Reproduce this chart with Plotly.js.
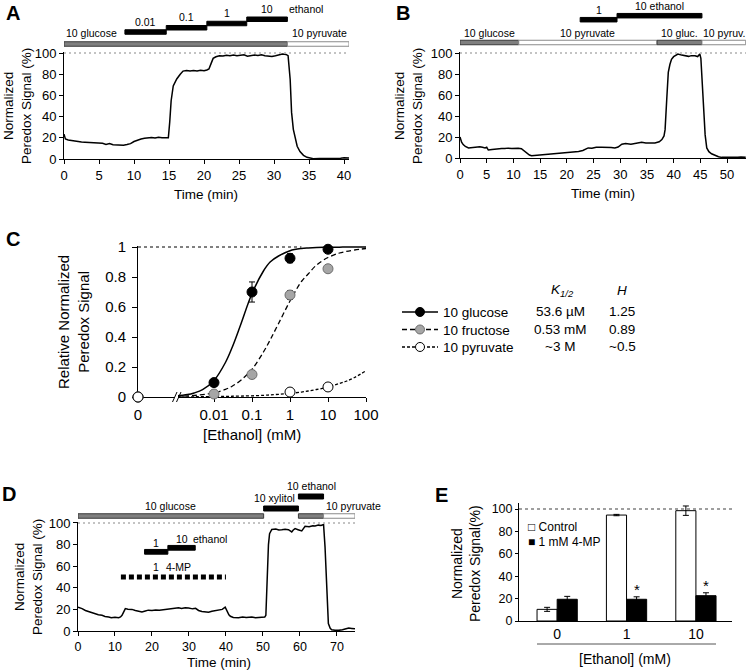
<!DOCTYPE html>
<html><head><meta charset="utf-8">
<script src="https://cdn.plot.ly/plotly-3.0.1.min.js"></script>
<style>html,body{margin:0;padding:0;background:#fff}#chart{width:747px;height:672px}</style>
</head><body><div id="chart"></div>
<script>
// ================= DATA =================
// Panel A: time course (min, % signal)
const aTime = [0,0.2,0.6,1,1.5,2,2.5,3,3.5,4, 4.5,5,5.5,6,6.5,7,7.5,8,8.5,9, 9.5,10,10.5,11,11.5,12,12.5,13,13.5,14, 14.5,14.9,15.1,15.3,15.6,16.1,16.6,17,17.5,18, 18.5,19,19.5,20,20.4,20.7,21,21.3,21.7,22.2, 22.7,23.2,23.7,24.2,24.7,25.2,25.7,26.2,26.7,27.2, 27.7,28.2,28.7,29.2,29.7,30.2,30.7,31.2,31.7,32.0, 32.3,32.5,32.75,33.0,33.3,33.7,34.2,34.7,35.2,35.6, 36.5,37.5,38.5,39.5,40,40.7];
const aSignal = [23.5,19,18,17.5,17.2,16.5,16,15.8,15.5,15.2, 14.8,14.5,14.9,13.8,14.6,13.4,13.2,13.7,13,13.6, 14.5,16.5,17.8,18.8,19.5,20,20.3,19.8,20.5,20.1, 20.4,20,35,55,69,75.5,80,83,83.6,83, 83.5,83.1,83.8,83.3,84,85,90,95,96.5,97.5, 97.2,98,97.5,98.1,97.4,97.9,98.3,97.1,97.6,98.2, 97.6,98.3,97.5,97,96.8,97.4,98.5,99,98.7,97.5, 75,44,28,19,12,7,3.5,1.6,0.6,0.3, 0.5,0.4,0.6,0.8,1.2,0.9];
const aCondLabels = ["10 glucose", "10 pyruvate"];
const aCondSubstance = ["glucose", "pyruvate"];
const aCondStart = [0, 31.9];
const aCondEnd = [31.9, 40.7];
const aEthLabels = ["0.01", "0.1", "1", "10"];
const aEthStart = [8.7, 14.6, 20.4, 26.1];
const aEthEnd = [14.6, 20.4, 26.1, 31.9];

// Panel B
const bTime = [0,0.3,0.6,1,1.6,2.2,2.8,3.3,3.7,4.2, 4.7,5,5.3,6,6.6,7.2,7.8,8.4,9,9.7, 10.3,10.9,11.5,12,12.5,13,13.4,14,14.6,15.3, 16,16.8,17.8,18.8,19.5,20.3,21,22.2,23,24, 24.7,25.5,26.5,27.5,28.3,29,29.6,30.3,31,32, 32.8,33.5,34,34.8,35.5,36.5,37.3,37.8,38.2,38.4, 38.7,39.0,39.3,39.6,40,40.3,40.8,41.5,42,42.8, 43.3,44,44.5,44.9,45.1,45.3,45.6,45.9,46.2,46.6, 47.1,47.8,48.4,49,50,51,52,52.6,53.5];
const bSignal = [20,15,12.8,11,9.6,10,10.4,11.2,10.8,10.2, 9.6,10.2,7.6,8.2,8.6,8.4,9,9,9.4,9.1, 9.4,9.2,8.8,6.5,4.2,2.8,2.2,2.5,2.2,2.6, 2.9,3.3,3.8,4.3,4.5,4.9,5.5,6.3,7.2,9.6, 9.4,10.3,10.2,10.4,10,9.6,10.4,13.2,13.8,13.2, 13.7,14.5,15,14.3,14.6,14.4,15.5,17.6,21,27, 55,81.5,89,94,96.5,97.4,99,98,97.5,96.8, 97.5,97.4,96.6,99,95,75,43,22,9.6,6, 4,2.4,1.2,0.6,0.4,0.5,0.7,1,0.8];
const bCondLabels = ["10 glucose", "10 pyruvate", "10 gluc.", "10 pyruv."];
const bCondSubstance = ["glucose", "pyruvate", "glucose", "pyruvate"];
const bCondStart = [0, 11.0, 36.9, 45.3];
const bCondEnd = [11.0, 36.9, 45.3, 53.5];
const bEthLabels = ["1", "10 ethanol"];
const bEthStart = [22.5, 29.4];
const bEthEnd = [29.4, 45.3];

// Panel C: dose response
const cEthanol = [0, 0.01, 0.1, 1, 10];
const cGlucose = [0, 0.096, 0.70, 0.925, 0.985];
const cGlucoseErr = [0, 0.01, 0.067, 0.03, 0.01];
const cFructose = [0, 0.02, 0.15, 0.68, 0.855];
const cFructoseErr = [0, 0.005, 0.025, 0.03, 0.01];
const cPyrEthanol = [0, 1, 10];
const cPyruvate = [0, 0.033, 0.067];
const cFitEthanol = [0.001,0.002,0.003,0.005,0.01,0.02,0.03,0.05,0.1,0.2,0.3,0.5,1,2,3,5,10,20,30,50,100];
const cFitGlucose = [0.007,0.016,0.027,0.049,0.11,0.23,0.33,0.48,0.69,0.84,0.9,0.94,0.975,0.99,0.994,0.997,0.998,0.999,1,1,1];
const cFitFructose = [0.004,0.007,0.01,0.016,0.028,0.051,0.072,0.11,0.185,0.3,0.38,0.49,0.64,0.77,0.82,0.88,0.93,0.96,0.97,0.98,0.99];
const cFitPyruvate = [0.001,0.0012,0.0015,0.002,0.003,0.004,0.005,0.006,0.008,0.011,0.014,0.018,0.024,0.033,0.04,0.05,0.066,0.09,0.105,0.13,0.175];
const cSeriesNames = ["10 glucose", "10 fructose", "10 pyruvate"];
const cK = ["53.6 µM", "0.53 mM", "~3 M"];
const cH = ["1.25", "0.89", "~0.5"];
const cTickVals = [0, 0.01, 0.1, 1, 10, 100];
const cTickText = ["0", "0.01", "0.1", "1", "10", "100"];

// Panel D
const dTime = [0,0.5,1.1,2,3,3.8,4.5,5.5,6.5,7.3, 8.3,9,10,11,11.5,11.9,12.4,12.8,13.5,14.6, 15.5,16.5,17.3,18.2,19,20,21,22,23.6,24.5, 25.5,26.4,27.2,28,29,29.9,31,31.8,32.6,33.5, 34.4,35.3,36.2,37,38,39,39.8,40.3,40.8,41.2, 42,43.4,44.5,45.5,47,48,49,49.7,50.5,50.8, 51.0,51.2,51.5,51.8,52.4,53.5,54.3,55.1,56,56.9, 57.8,58.2,58.7,59.5,60.5,61,61.4,62.5,63.5,64.1, 65,65.7,66.4,66.8,67.1,67.3,67.7,68.2,68.6,69.5, 70.5,71.5,72.5,73.2,74,74.5,74.9];
const dSignal = [22,21.5,20.7,19,17.8,16.7,15.8,15,14.5,13.5, 13,12.3,12.8,12.3,13,14.5,18,20.7,20.2,20, 19,18.2,17.6,18.5,19.3,19,19.5,19.2,19.8,20.5, 20.8,21.2,21.6,20.8,21.5,21.3,20.5,21,19,18, 17.6,17.3,18.2,18.8,19,20,22,17.6,15,13.6, 12.5,12.3,13,12.4,13,12.2,12.6,12.3,13,14.5, 35,62,80,90,94,94.5,93.6,93.8,94.2,93.8, 91.7,93.5,94.8,93.8,92.6,95,97,96.5,97.4,97.2, 98,97.6,98.5,77.8,50,31.5,6.8,2.5,1.2,0.8, 0.6,1.2,2,2.8,2.4,2.2,2];
const dCondLabels = ["10 glucose", "", "10 pyruvate"];
const dCondSubstance = ["glucose", "glucose", "pyruvate"];
const dCondStart = [0, 59.6, 66.4];
const dCondEnd = [50.2, 66.4, 74.9];
const dAddLabels = ["10 xylitol", "10 ethanol"];
const dAddStart = [50.2, 59.6];
const dAddEnd = [59.6, 66.4];
const dEthLabels = ["1", "10"];
const dEthStart = [18.0, 24.3];
const dEthEnd = [24.3, 31.7];
const dMPLabel = "4-MP";
const dMPConc = "1";
const dMPStart = 11.6;
const dMPEnd = 40.0;

// Panel E
const eEthanol = ["0", "1", "10"];
const eControl = [10.4, 94.6, 98.5];
const eControlErr = [1.8, 0.6, 4.2];
const eMP = [19.4, 19.4, 22.6];
const eMPErr = [2.6, 2.2, 2.6];
const eSignificant = [false, true, true];
const eSeriesNames = ["Control", "1 mM 4-MP"];

// ================= LAYOUT HELPERS =================
const FONT = 'Arial, "Liberation Sans", Helvetica, sans-serif';
const W = 747, H = 672;
const PX = v => v / W;
const PY = v => 1 - v / H;
const FILL = {glucose: '#7f7f7f', pyruvate: '#ffffff'};
const EDGE = {glucose: '#3a3a3a', pyruvate: '#8a8a8a'};
const shapes = [], annotations = [];

function txt(t, xref, x, yPx, size, extra) {
  annotations.push(Object.assign({
    text: t, xref: xref, x: x, yref: 'paper', y: PY(yPx), showarrow: false,
    xanchor: 'center', yanchor: 'middle',
    font: {family: FONT, size: size, color: '#000'}
  }, extra || {}));
}
function rectPx(xref, x0, x1, yc, h, fill, edge) {
  shapes.push({type: 'rect', xref: xref, yref: 'paper', x0: x0, x1: x1,
    y0: PY(yc + h / 2), y1: PY(yc - h / 2), fillcolor: fill,
    line: {color: edge, width: 1}, layer: 'above'});
}
const mid = (a, b) => (a + b) / 2;

function axisStyle(extra) {
  return Object.assign({
    showline: true, linecolor: '#000', linewidth: 1, ticks: 'outside', ticklen: 4,
    tickwidth: 1, tickcolor: '#000', showgrid: false, zeroline: false,
    tickfont: {family: FONT, size: 13, color: '#000'}, fixedrange: true
  }, extra);
}

// ================= TRACES =================
const traces = [];
const lineTrace = (x, y, xa, ya) => ({x: x, y: y, xaxis: xa, yaxis: ya, type: 'scatter', mode: 'lines',
  line: {color: '#000', width: 1.5}, showlegend: false, hoverinfo: 'skip'});
traces.push(lineTrace(aTime, aSignal, 'x', 'y'));
traces.push(lineTrace(bTime, bSignal, 'x2', 'y2'));
traces.push(lineTrace(dTime, dSignal, 'x4', 'y4'));

// Panel C
const C_ZERO = 1e-4; // axis position used for "0"
const zpos = v => (v === 0 ? C_ZERO : v);
const cStyles = [
  {dash: 'solid', fill: '#000000', edge: '#000000'},
  {dash: '5px,3px', fill: '#a6a6a6', edge: '#6e6e6e'},
  {dash: '3px,2px', fill: '#ffffff', edge: '#000000'}
];
const cFits = [cFitGlucose, cFitFructose, cFitPyruvate];
cFits.forEach((f, i) => traces.push({x: cFitEthanol, y: f, xaxis: 'x3', yaxis: 'y3', type: 'scatter', mode: 'lines',
  line: {color: '#000', width: i === 0 ? 1.5 : 1.3, dash: cStyles[i].dash, shape: 'spline'}, showlegend: false, hoverinfo: 'skip'}));
const cPts = [
  {x: cEthanol, y: cGlucose, e: cGlucoseErr},
  {x: cEthanol, y: cFructose, e: cFructoseErr},
  {x: cPyrEthanol, y: cPyruvate, e: null}
];
cPts.forEach((p, i) => traces.push({x: p.x.map(zpos), y: p.y, xaxis: 'x3', yaxis: 'y3', type: 'scatter', mode: 'markers',
  marker: {size: 10, color: cStyles[i].fill, line: {color: cStyles[i].edge, width: 1}},
  error_y: p.e ? {type: 'data', array: p.e, color: '#000', thickness: 1, width: 3} : {visible: false},
  cliponaxis: false, showlegend: false, hoverinfo: 'skip'}));
// legend entries for panel C (one legend per row so rows can sit at the reference spacing)
const cLegendIds = ['legend', 'legend2', 'legend3'];
cSeriesNames.forEach((n, i) => traces.push({x: [null], y: [null], xaxis: 'x3', yaxis: 'y3', type: 'scatter', mode: 'lines+markers',
  name: n, legend: cLegendIds[i], line: {color: '#000', width: 1.3, dash: cStyles[i].dash},
  marker: {size: 9, color: cStyles[i].fill, line: {color: cStyles[i].edge, width: 1}}, showlegend: true}));

// Panel E
const eX = eEthanol.map((c, i) => i);
traces.push({type: 'bar', x: eX, y: eControl, xaxis: 'x5', yaxis: 'y5', name: eSeriesNames[0],
  marker: {color: '#ffffff', line: {color: '#000', width: 1}},
  error_y: {type: 'data', array: eControlErr, color: '#000', thickness: 1, width: 3}, showlegend: false, hoverinfo: 'skip'});
traces.push({type: 'bar', x: eX, y: eMP, xaxis: 'x5', yaxis: 'y5', name: eSeriesNames[1],
  marker: {color: '#000000', line: {color: '#000', width: 1}},
  error_y: {type: 'data', array: eMPErr, color: '#000', thickness: 1, width: 3}, showlegend: false, hoverinfo: 'skip'});

// ================= DECORATIONS =================
const LBL = 10.5;
// --- Panel A ---
aCondStart.forEach((s, i) => rectPx('x', s, aCondEnd[i], 44, 4.5, FILL[aCondSubstance[i]], EDGE[aCondSubstance[i]]));
txt(aCondLabels[0], 'x', aCondStart[0], 33, LBL, {xanchor: 'left'});
txt(aCondLabels[1], 'x', aCondEnd[1], 33, LBL, {xanchor: 'right'});
aEthStart.forEach((s, i) => {
  const yc = 32 - 4.25 * i;
  rectPx('x', s, aEthEnd[i], yc, 4.5, '#000', '#000');
  txt(aEthLabels[i], 'x', mid(s, aEthEnd[i]), yc - 10.5, LBL);
});
txt('ethanol', 'x', aEthEnd[aEthEnd.length - 1] + 2.7, 9, LBL);
shapes.push({type: 'line', xref: 'x', yref: 'y', x0: 0, x1: 40.7, y0: 100, y1: 100, line: {color: '#b0b0b0', width: 1.5, dash: '2px,3px'}});

// --- Panel B ---
bCondStart.forEach((s, i) => {
  rectPx('x2', s, bCondEnd[i], 42.5, 4.5, FILL[bCondSubstance[i]], EDGE[bCondSubstance[i]]);
  txt(bCondLabels[i], 'x2', mid(s, bCondEnd[i]), 33, LBL);
});
bEthStart.forEach((s, i) => {
  const yc = 19.7 - 4 * i;
  rectPx('x2', s, bEthEnd[i], yc, 4.5, '#000', '#000');
  txt(bEthLabels[i], 'x2', mid(s, bEthEnd[i]), yc - 10, LBL);
});
shapes.push({type: 'line', xref: 'x2', yref: 'y2', x0: 0, x1: 53.55, y0: 100, y1: 100, line: {color: '#b0b0b0', width: 1.5, dash: '2px,3px'}});

// --- Panel C ---
shapes.push({type: 'line', xref: 'x3', yref: 'y3', x0: Math.log10(C_ZERO), x1: 2, y0: 1, y1: 1, line: {color: '#000', width: 1, dash: '3px,3px'}});
shapes.push({type: 'rect', xref: 'paper', yref: 'paper', x0: PX(174.5), x1: PX(178), y0: PY(399.5), y1: PY(394.5), fillcolor: '#fff', line: {width: 0}});
[172.5, 176.5].forEach(x => shapes.push({type: 'line', xref: 'paper', yref: 'paper', x0: PX(x), x1: PX(x + 4.5), y0: PY(402), y1: PY(392), line: {color: '#000', width: 1}}));
const cRow0 = 311.7, cRowStep = 17.5;
txt('<i>K</i><sub><i>1/2</i></sub>', 'paper', PX(562), 290, 13.5);
txt('<i>H</i>', 'paper', PX(622), 290, 13.5);
cK.forEach((k, i) => txt(k, 'paper', PX(560), cRow0 + cRowStep * i, 13.5));
cH.forEach((h, i) => txt(h, 'paper', PX(622), cRow0 + cRowStep * i, 13.5));

// --- Panel D ---
dCondStart.forEach((s, i) => rectPx('x4', s, dCondEnd[i], 516, 4.5, FILL[dCondSubstance[i]], EDGE[dCondSubstance[i]]));
txt(dCondLabels[0], 'x4', mid(dCondStart[0], dCondEnd[0]), 506, LBL);
txt(dCondLabels[2], 'x4', dCondStart[2], 506, LBL, {xanchor: 'left'});
const dAddY = [508.5, 496.5];
dAddStart.forEach((s, i) => {
  rectPx('x4', s, dAddEnd[i], dAddY[i], 5, '#000', '#000');
  txt(dAddLabels[i], 'x4', mid(s, dAddEnd[i]), dAddY[i] - 10.5, LBL, {xshift: i === 0 ? -7 : 1});
});
shapes.push({type: 'line', xref: 'x4', yref: 'y4', x0: 0, x1: 74.9, y0: 100, y1: 100, line: {color: '#b0b0b0', width: 1.5, dash: '2px,3px'}});
const dEthLevel = [73.3, 77];
dEthStart.forEach((s, i) => {
  shapes.push({type: 'rect', xref: 'x4', yref: 'y4', x0: s, x1: dEthEnd[i], y0: dEthLevel[i] - 2.2, y1: dEthLevel[i] + 2.2, fillcolor: '#000', line: {color: '#000', width: 1}});
  annotations.push({text: dEthLabels[i], xref: 'x4', yref: 'y4', x: mid(s, dEthEnd[i]), y: dEthLevel[i] + 8.5, showarrow: false, font: {family: FONT, size: LBL, color: '#000'}});
});
annotations.push({text: 'ethanol', xref: 'x4', yref: 'y4', x: dEthEnd[1] + 4.1, y: dEthLevel[1] + 8.5, showarrow: false, font: {family: FONT, size: LBL, color: '#000'}});
shapes.push({type: 'line', xref: 'x4', yref: 'y4', x0: dMPStart, x1: dMPEnd, y0: 50, y1: 50, line: {color: '#000', width: 5, dash: '5px,3px'}});
annotations.push({text: dMPConc, xref: 'x4', yref: 'y4', x: mid(dEthStart[0], dEthEnd[0]), y: 59, showarrow: false, font: {family: FONT, size: LBL, color: '#000'}});
annotations.push({text: dMPLabel, xref: 'x4', yref: 'y4', x: mid(dEthStart[1], dEthEnd[1]) - 0.8, y: 59, showarrow: false, font: {family: FONT, size: LBL, color: '#000'}});

// --- Panel E ---
shapes.push({type: 'line', xref: 'x5', yref: 'y5', x0: -0.55, x1: 2.52, y0: 100, y1: 100, line: {color: '#808080', width: 1.5, dash: '3px,3px'}});
shapes.push({type: 'line', xref: 'paper', yref: 'paper', x0: PX(537), x1: PX(716), y0: PY(644), y1: PY(644), line: {color: '#555', width: 1}});
txt('\u25A1 ' + eSeriesNames[0], 'paper', PX(526), 527, 12, {xanchor: 'left'});
txt('\u25A0 ' + eSeriesNames[1], 'paper', PX(526), 542, 12, {xanchor: 'left'});
eSignificant.forEach((s, i) => {
  if (s) annotations.push({text: '*', xref: 'x5', yref: 'y5', x: i + 0.145, y: eMP[i] + eMPErr[i], yanchor: 'bottom', yshift: -3,
    showarrow: false, font: {family: FONT, size: 15, color: '#000'}});
});

// --- Panel letters & axis titles ---
txt('<b>A</b>', 'paper', PX(13), 0, 20, {yanchor: 'top'});
txt('<b>B</b>', 'paper', PX(403), 0, 20, {yanchor: 'top'});
[['C', 13, 239], ['D', 9, 494], ['E', 441, 495]].forEach(p =>
  txt('<b>' + p[0] + '</b>', 'paper', PX(p[1]), p[2], 20));
const yT = (t, x, y, s) => txt(t, 'paper', PX(x), y, s, {textangle: -90});
yT('Normalized<br>Peredox Signal (%)', 17, 106, 13.5);
yT('Normalized<br>Peredox Signal (%)', 408, 106, 13.5);
yT('Relative Normalized<br>Peredox Signal', 73, 322, 15);
yT('Normalized<br>Peredox Signal (%)', 28, 577, 13.5);
yT('Normalized<br>Peredox Signal(%)', 466, 564, 14);
txt('Time (min)', 'paper', PX(206), 195, 13.5);
txt('Time (min)', 'paper', PX(603), 193, 13.5);
txt('[Ethanol] (mM)', 'paper', PX(252), 434, 15);
txt('Time (min)', 'paper', PX(219), 662, 13.5);
txt('[Ethanol] (mM)', 'paper', PX(625), 659, 14);

// ================= LAYOUT =================
const legendBase = (rowPx) => ({x: PX(397), y: PY(rowPx - 15), xanchor: 'left', yanchor: 'top', bgcolor: 'rgba(0,0,0,0)', borderwidth: 0,
  font: {family: FONT, size: 13.5, color: '#000'}, tracegroupgap: 0, itemwidth: 36, itemclick: false, itemdoubleclick: false});
const layout = {
  width: W, height: H, margin: {l: 0, r: 0, t: 0, b: 0},
  paper_bgcolor: '#fff', plot_bgcolor: 'rgba(0,0,0,0)',
  font: {family: FONT, color: '#000'},
  hovermode: false, barmode: 'group', bargap: 0.42, bargroupgap: 0,
  showlegend: true,
  legend: legendBase(cRow0),
  legend2: legendBase(cRow0 + cRowStep),
  legend3: legendBase(cRow0 + 2 * cRowStep),
  xaxis: axisStyle({domain: [PX(64), PX(349)], range: [0, 40.7], dtick: 5, tick0: 0, anchor: 'y'}),
  yaxis: axisStyle({domain: [PY(159), PY(52)], range: [0, 101], dtick: 20, tick0: 0, anchor: 'x'}),
  xaxis2: axisStyle({domain: [PX(460), PX(746)], range: [0, 53.55], dtick: 5, tick0: 0, anchor: 'y2'}),
  yaxis2: axisStyle({domain: [PY(158), PY(51.95)], range: [0, 101], dtick: 20, tick0: 0, anchor: 'x2'}),
  xaxis3: axisStyle({domain: [PX(138), PX(366)], type: 'log', range: [Math.log10(C_ZERO), 2], anchor: 'y3', layer: 'below traces',
    tickvals: cTickVals.map(zpos), ticktext: cTickText, tickfont: {family: FONT, size: 15, color: '#000'}}),
  yaxis3: axisStyle({domain: [PY(397), PY(245.5)], range: [0, 1.01], anchor: 'x3', ticklen: 5, layer: 'below traces',
    tickvals: [0, 0.2, 0.4, 0.6, 0.8, 1], ticktext: ['0', '0.2', '0.4', '0.6', '0.8', '1'],
    tickfont: {family: FONT, size: 15, color: '#000'}, ticklabelstandoff: 3}),
  xaxis4: axisStyle({domain: [PX(78), PX(355)], range: [0, 74.9], dtick: 10, tick0: 0, anchor: 'y4', tickfont: {family: FONT, size: 12.5, color: '#000'}}),
  yaxis4: axisStyle({domain: [PY(631), PY(521.9)], range: [0, 101], dtick: 20, tick0: 0, anchor: 'x4'}),
  xaxis5: axisStyle({domain: [PX(519), PX(732)], range: [-0.55, 2.52], anchor: 'y5', ticks: '',
    tickvals: eX, ticktext: eEthanol, tickfont: {family: FONT, size: 14, color: '#000'}}),
  yaxis5: axisStyle({domain: [PY(621), PY(503.4)], range: [0, 105], dtick: 20, tick0: 0, anchor: 'x5', ticklen: 3,
    tickfont: {family: FONT, size: 12.5, color: '#000'}}),
  shapes: shapes, annotations: annotations
};

Plotly.newPlot('chart', traces, layout, {displayModeBar: false, staticPlot: true});
</script>
</body></html>
